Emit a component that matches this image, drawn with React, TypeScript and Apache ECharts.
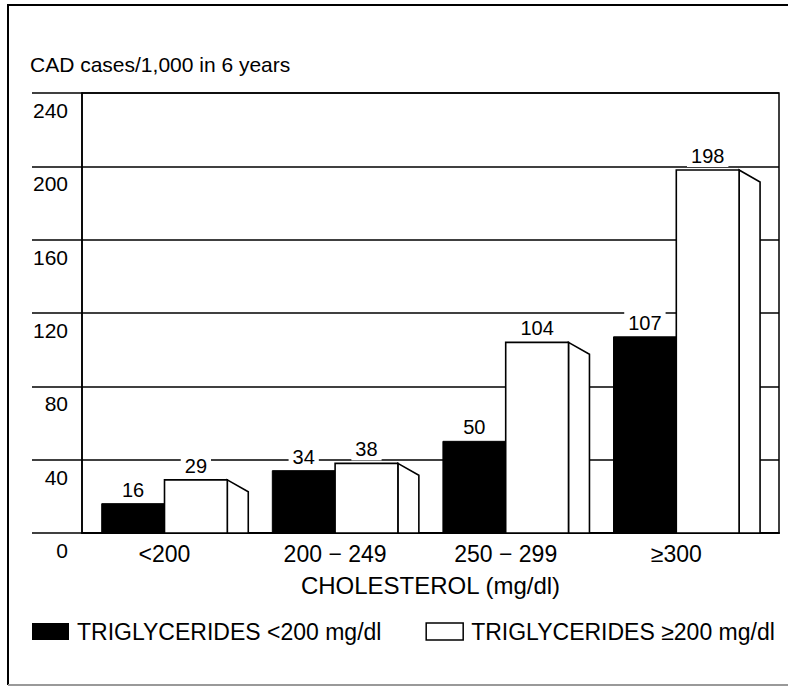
import React, { useEffect, useRef } from "react";
import * as echarts from "echarts";

const categories = ["<200", "200 − 249", "250 − 299", "≥300"];
const lowTG = [16, 34, 50, 107];
const highTG = [29, 38, 104, 198];
const yTickInterval = 40;
const yMax = 240;

const seriesNames = ["TRIGLYCERIDES <200 mg/dl", "TRIGLYCERIDES ≥200 mg/dl"];
const FONT = "'Liberation Sans', Arial, Helvetica, sans-serif";
const BAR_UNITS = 0.368;
const SIDE_UNITS = 0.123;
const SIDE_DROP = 12;

function makeRender(kind: "low" | "high") {
  return (params: any, api: any) => {
    const i = api.value(0);
    const v = api.value(1);
    const top = api.coord([i, v]);
    const base = api.coord([i, 0]);
    const w = api.size([BAR_UNITS, 0])[0];
    const sw = api.size([SIDE_UNITS, 0])[0];
    const h = base[1] - top[1];
    const children: any[] = [];
    const labelStyle = {
      text: String(v),
      fill: "#000",
      fontSize: 20,
      fontFamily: FONT,
      align: "center",
      verticalAlign: "middle",
      backgroundColor: "#fff",
      padding: [1, 4],
    };
    if (kind === "low") {
      children.push({
        type: "rect",
        shape: { x: base[0] - w, y: top[1], width: w, height: h },
        style: { fill: "#000", stroke: "#000", lineWidth: 1 },
      });
      children.push({ type: "text", x: base[0] - w / 2, y: top[1] - 14, style: labelStyle });
    } else {
      const xr = base[0] + w;
      children.push({
        type: "polygon",
        shape: {
          points: [
            [xr, top[1]],
            [xr + sw, top[1] + SIDE_DROP],
            [xr + sw, base[1]],
            [xr, base[1]],
          ],
        },
        style: { fill: "#fff", stroke: "#000", lineWidth: 1.6 },
      });
      children.push({
        type: "rect",
        shape: { x: base[0], y: top[1], width: w, height: h },
        style: { fill: "#fff", stroke: "#000", lineWidth: 1.6 },
      });
      children.push({ type: "text", x: base[0] + w / 2, y: top[1] - 14, style: labelStyle });
    }
    return { type: "group", children };
  };
}

export default function App() {
  const ref = useRef<HTMLDivElement>(null);
  useEffect(() => {
    if (!ref.current) return;
    const chart = echarts.init(ref.current, null, { renderer: "svg" });
    chart.setOption({
      animation: false,
      backgroundColor: "#fff",
      textStyle: { fontFamily: FONT, color: "#000" },
      title: {
        text: "CAD cases/1,000 in 6 years",
        left: 30,
        top: 54,
        padding: 0,
        textStyle: { fontFamily: FONT, fontSize: 21, fontWeight: "normal", color: "#000" },
      },
      legend: {
        left: 32,
        top: 620,
        padding: 0,
        itemWidth: 37,
        itemHeight: 17,
        itemGap: 44,
        selectedMode: false,
        textStyle: { fontFamily: FONT, fontSize: 23, color: "#000", padding: [0, 0, 0, 3] },
        data: [
          { name: seriesNames[0], icon: "rect", itemStyle: { color: "#000", borderWidth: 0 } },
          {
            name: seriesNames[1],
            icon: "rect",
            itemStyle: { color: "#fff", borderColor: "#000", borderWidth: 1.5 },
          },
        ],
      },
      grid: {
        left: 82,
        right: 9,
        top: 93,
        bottom: 155,
        show: true,
        borderColor: "#000",
        borderWidth: 1.5,
      },
      xAxis: {
        type: "value",
        min: -0.4836,
        max: 3.602,
        splitLine: { show: false },
        axisTick: { show: false },
        axisLine: { show: true, onZero: false, lineStyle: { color: "#000", width: 2 } },
        axisLabel: {
          customValues: [0, 1, 2, 3],
          formatter: (v: number) => categories[Math.round(v)] ?? "",
          fontFamily: FONT,
          fontSize: 23,
          color: "#000",
          margin: 9,
        },
        name: "CHOLESTEROL (mg/dl)",
        nameLocation: "middle",
        nameGap: 40,
        nameTextStyle: { fontFamily: FONT, fontSize: 24, color: "#000", verticalAlign: "top" },
      },
      yAxis: {
        type: "value",
        min: 0,
        max: yMax,
        interval: yTickInterval,
        axisLine: { show: true, onZero: false, lineStyle: { color: "#000", width: 1.6 } },
        axisTick: { show: true, inside: false, length: 50, lineStyle: { color: "#000", width: 1.6 } },
        splitLine: { show: true, lineStyle: { color: "#000", width: 1.6 } },
        axisLabel: {
          fontFamily: FONT,
          fontSize: 21,
          color: "#000",
          margin: 14,
          verticalAlign: "top",
          lineHeight: 21,
          padding: [7, 0, 0, 0],
        },
      },
      graphic: [
        {
          type: "polyline",
          shape: { points: [[8, 685], [8, 5], [788, 5]] },
          style: { stroke: "#000", lineWidth: 2, fill: "none" },
          silent: true,
        },
        {
          type: "line",
          shape: { x1: 8, y1: 685, x2: 788, y2: 685 },
          style: { stroke: "#999", lineWidth: 2 },
          silent: true,
        },
      ],
      series: [
        {
          name: seriesNames[0],
          type: "custom",
          renderItem: makeRender("low"),
          encode: { x: 0, y: 1 },
          itemStyle: { color: "#000" },
          data: lowTG.map((v, i) => [i, v]),
          z: 3,
        },
        {
          name: seriesNames[1],
          type: "custom",
          renderItem: makeRender("high"),
          encode: { x: 0, y: 1 },
          itemStyle: { color: "#fff", borderColor: "#000", borderWidth: 1.5 },
          data: highTG.map((v, i) => [i, v]),
          z: 3,
        },
      ],
    });
    return () => chart.dispose();
  }, []);
  return (
    <div
      ref={ref}
      style={{ position: "fixed", left: 0, top: 0, width: 788, height: 688, background: "#fff" }}
    />
  );
}
